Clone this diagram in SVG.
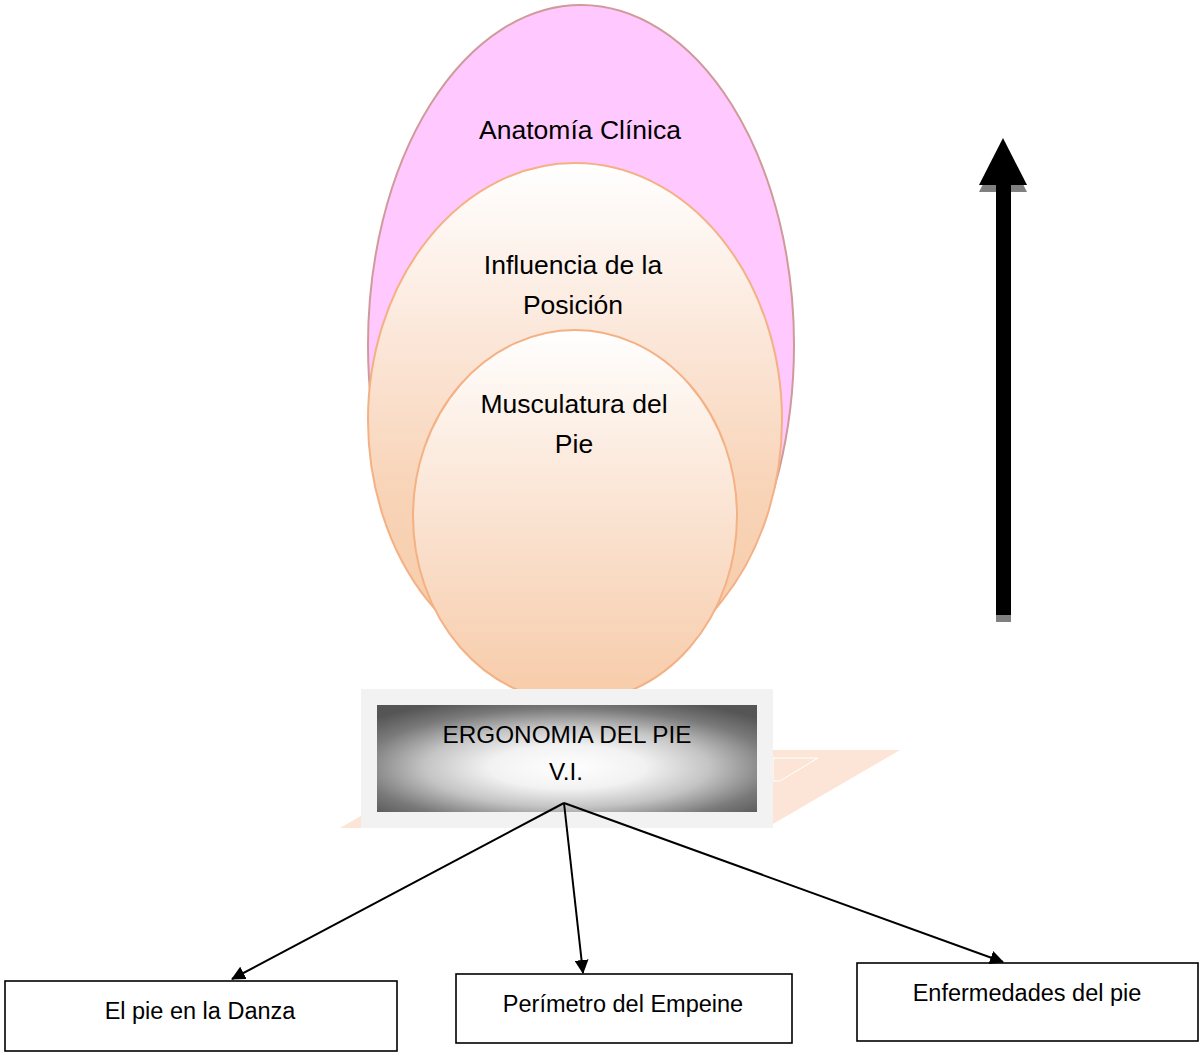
<svg xmlns="http://www.w3.org/2000/svg" width="1199" height="1053" viewBox="0 0 1199 1053">
<defs>
<style>
.t{font-family:"Liberation Sans",Arial,sans-serif;fill:#000;text-anchor:middle}
.big{font-size:26.5px}
.box{fill:#fff;stroke:#000;stroke-width:1.6}
.bt{font-size:23.5px}
.con{stroke:#000;stroke-width:2;fill:none;marker-end:url(#ah)}
.peach{stroke:#F4B183;stroke-width:2}
</style>
<linearGradient id="pg" x1="0" y1="0" x2="0" y2="1">
<stop offset="0" stop-color="#FFFFFF"/>
<stop offset="0.35" stop-color="#FBE6D8"/>
<stop offset="0.65" stop-color="#F8D3B6"/>
<stop offset="1" stop-color="#F7CBA8"/>
</linearGradient>
<linearGradient id="pg2" x1="0" y1="0" x2="0" y2="1">
<stop offset="0" stop-color="#FFFFFF"/>
<stop offset="0.3" stop-color="#FCEDE2"/>
<stop offset="0.7" stop-color="#F9D9C1"/>
<stop offset="1" stop-color="#F7CBA8"/>
</linearGradient>
<radialGradient id="gg" cx="0.5" cy="0.58" r="0.68">
<stop offset="0" stop-color="#FFFFFF"/>
<stop offset="0.3" stop-color="#F2F2F2"/>
<stop offset="0.55" stop-color="#C4C4C4"/>
<stop offset="0.8" stop-color="#7A7A7A"/>
<stop offset="1" stop-color="#555555"/>
</radialGradient>
<marker id="ah" viewBox="0 0 14 14" refX="13" refY="7" markerWidth="14" markerHeight="14" markerUnits="userSpaceOnUse" orient="auto">
<path d="M0,0 L14,7 L0,14 z" fill="#000"/>
</marker>
</defs>
<rect width="1199" height="1053" fill="#fff"/>

<g id="anatomia">
<ellipse cx="581" cy="345" rx="213" ry="340" fill="#FFC9FF" stroke="#D09A9A" stroke-width="2"/>
<text class="t big" x="580" y="139">Anatomía Clínica</text>
</g>

<g id="influencia">
<ellipse class="peach" cx="575" cy="420" rx="207" ry="257" fill="url(#pg)"/>
<text class="t big" x="573" y="274">Influencia de la</text>
<text class="t big" x="573" y="314">Posición</text>
</g>

<g id="musculatura">
<ellipse class="peach" cx="575" cy="516" rx="162" ry="186" fill="url(#pg2)"/>
<text class="t big" x="574" y="413">Musculatura del</text>
<text class="t big" x="574" y="453">Pie</text>
</g>

<g id="ergonomia">
<polygon points="474,750 900,750 766,828 340,828" fill="#FCE4D6"/>
<polygon points="773,758 818,758 780,781 773,781" fill="none" stroke="#fff" stroke-width="1"/>
<rect x="361" y="689" width="412" height="139" fill="#F2F2F2"/>
<rect x="377" y="705" width="380" height="107" fill="url(#gg)"/>
<text class="t" font-size="24.3" x="567" y="743">ERGONOMIA DEL PIE</text>
<text class="t" font-size="24.3" x="566" y="780">V.I.</text>
</g>

<g id="flecha">
<rect x="996" y="192" width="15" height="430" fill="#808080"/>
<polygon points="1003,145 1027,192 979,192" fill="#808080"/>
<rect x="996" y="185" width="15" height="430" fill="#000"/>
<polygon points="1003,138 1027,185 979,185" fill="#000"/>
</g>

<g id="danza">
<rect class="box" x="5" y="981" width="392" height="70"/>
<text class="t bt" x="200" y="1019">El pie en la Danza</text>
</g>

<g id="perimetro">
<rect class="box" x="456" y="974" width="336" height="69"/>
<text class="t bt" x="623" y="1012">Perímetro del Empeine</text>
</g>

<g id="enfermedades">
<rect class="box" x="857" y="963" width="341" height="78"/>
<text class="t bt" x="1027" y="1001">Enfermedades del pie</text>
</g>

<g id="connectors">
<line class="con" x1="564" y1="803" x2="232" y2="979"/>
<line class="con" x1="564" y1="803" x2="583" y2="973"/>
<line class="con" x1="564" y1="803" x2="1003" y2="962"/>
</g>
</svg>
